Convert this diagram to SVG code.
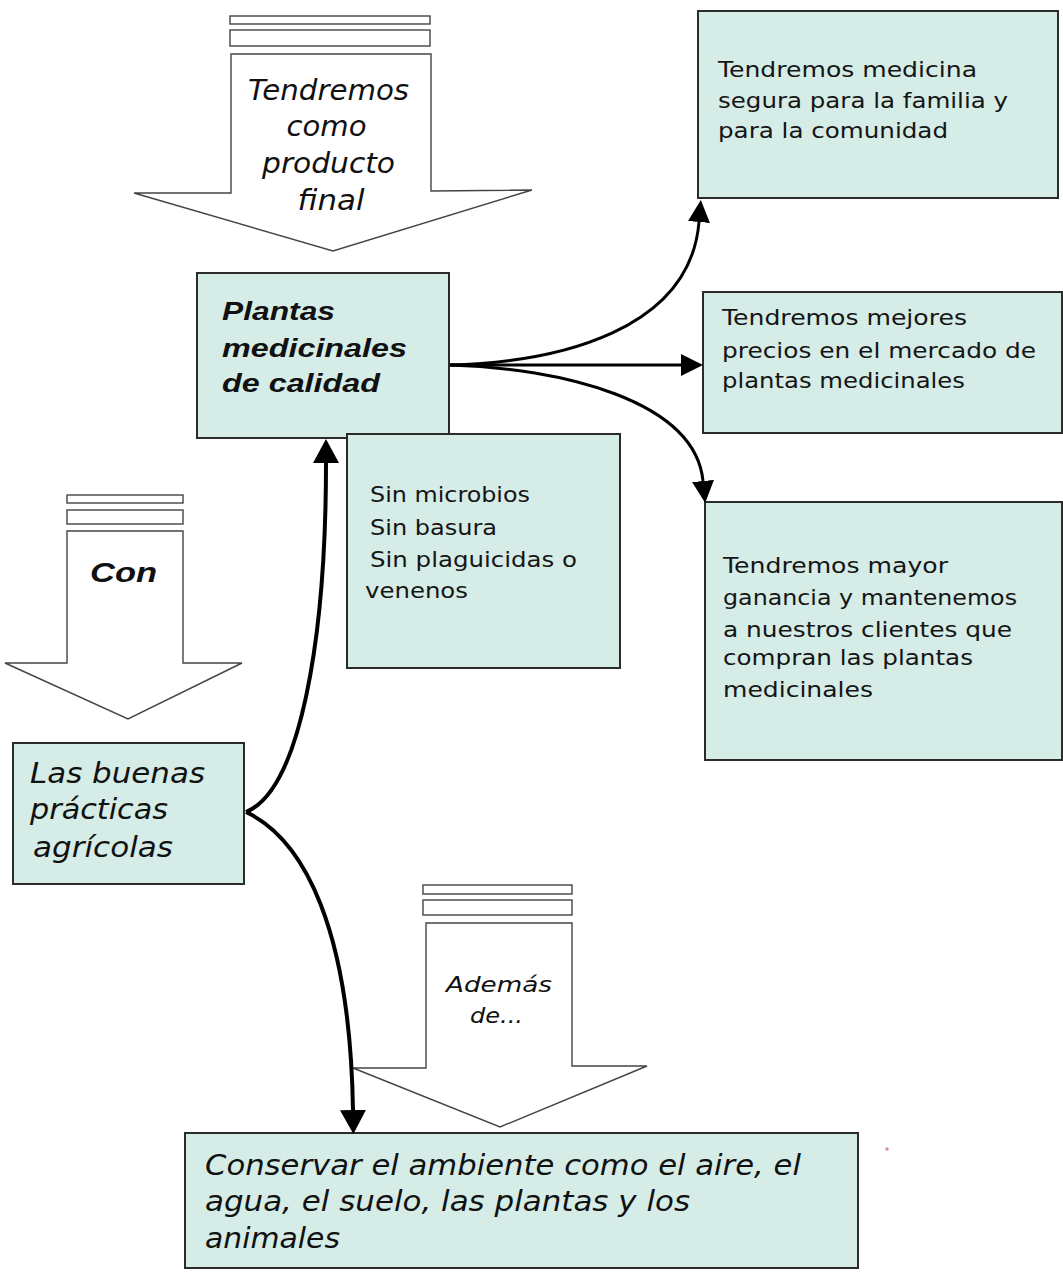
<svg xmlns="http://www.w3.org/2000/svg" width="1063" height="1272" viewBox="0 0 1063 1272">
<defs>
<style>
.box{fill:#d5ece7;stroke:#2b2b2b;stroke-width:2}
.blk{fill:#fff;stroke:#444;stroke-width:1.4}
.t{font-family:"DejaVu Sans","Noto Sans",sans-serif;font-size:22px;fill:#151515}
.ti{font-family:"DejaVu Sans","Noto Sans",sans-serif;font-style:italic;fill:#111}
.tb{font-family:"Liberation Sans",Arial,sans-serif;font-style:italic;font-weight:bold;fill:#111}
.thick{fill:none;stroke:#000;stroke-width:4}
.thin{fill:none;stroke:#000;stroke-width:3}
</style>
<marker id="ahBig" markerUnits="userSpaceOnUse" markerWidth="24" markerHeight="26" refX="0" refY="13" orient="auto" viewBox="0 0 24 26">
<path d="M0,0 L24,13 L0,26 Z" fill="#000"/>
</marker>
<marker id="ahSm" markerUnits="userSpaceOnUse" markerWidth="22" markerHeight="22" refX="0" refY="11" orient="auto" viewBox="0 0 22 22">
<path d="M0,0 L22,11 L0,22 Z" fill="#000"/>
</marker>
</defs>
<rect width="1063" height="1272" fill="#fff"/>

<g id="arrow-tendremos">
<rect class="blk" x="230" y="16" width="200" height="8"/>
<rect class="blk" x="230" y="30" width="200" height="16"/>
<polygon class="blk" points="231,54 431,54 431,191 532,190 333,251 134,193 231,193"/>
<text class="ti" font-size="28" text-anchor="middle">
<tspan x="333" y="100" textLength="161" lengthAdjust="spacingAndGlyphs">Tendremos</tspan>
<tspan x="331" y="136" textLength="80" lengthAdjust="spacingAndGlyphs">como</tspan>
<tspan x="333" y="173" textLength="133" lengthAdjust="spacingAndGlyphs">producto</tspan>
<tspan x="331" y="210" textLength="67" lengthAdjust="spacingAndGlyphs">final</tspan>
</text>
</g>

<g id="arrow-con">
<rect class="blk" x="67" y="495" width="116" height="8"/>
<rect class="blk" x="67" y="510" width="116" height="14"/>
<polygon class="blk" points="67,531 183,531 183,663 242,663 128,719 5,663 67,663"/>
<text class="tb" font-size="27" x="90" y="582" textLength="67" lengthAdjust="spacingAndGlyphs">Con</text>
</g>

<g id="arrow-ademas">
<rect class="blk" x="423" y="885" width="149" height="9"/>
<rect class="blk" x="423" y="900" width="149" height="15"/>
<polygon class="blk" points="426,923 572,923 572,1066 647,1066 500,1127 353,1068 426,1068"/>
<text class="ti" font-size="22">
<tspan x="446" y="992" textLength="106" lengthAdjust="spacingAndGlyphs">Además</tspan>
<tspan x="470" y="1023" textLength="53" lengthAdjust="spacingAndGlyphs">de...</tspan>
</text>
</g>

<g id="node-plantas">
<rect class="box" x="197" y="273" width="252" height="165"/>
<text class="tb" font-size="26">
<tspan x="222" y="320" textLength="113" lengthAdjust="spacingAndGlyphs">Plantas</tspan>
<tspan x="222" y="357" textLength="185" lengthAdjust="spacingAndGlyphs">medicinales</tspan>
<tspan x="222" y="392" textLength="158" lengthAdjust="spacingAndGlyphs">de calidad</tspan>
</text>
</g>

<g id="node-sin">
<rect class="box" x="347" y="434" width="273" height="234"/>
<text class="t">
<tspan x="370" y="502" textLength="160" lengthAdjust="spacingAndGlyphs">Sin microbios</tspan>
<tspan x="370" y="535" textLength="127" lengthAdjust="spacingAndGlyphs">Sin basura</tspan>
<tspan x="370" y="567" textLength="207" lengthAdjust="spacingAndGlyphs">Sin plaguicidas o</tspan>
<tspan x="365" y="598" textLength="103" lengthAdjust="spacingAndGlyphs">venenos</tspan>
</text>
</g>

<g id="node-medicina">
<rect class="box" x="698" y="11" width="360" height="187"/>
<text class="t">
<tspan x="718" y="77" textLength="259" lengthAdjust="spacingAndGlyphs">Tendremos medicina</tspan>
<tspan x="718" y="108" textLength="290" lengthAdjust="spacingAndGlyphs">segura para la familia y</tspan>
<tspan x="718" y="138" textLength="230" lengthAdjust="spacingAndGlyphs">para la comunidad</tspan>
</text>
</g>

<g id="node-precios">
<rect class="box" x="703" y="292" width="359" height="141"/>
<text class="t">
<tspan x="722" y="325" textLength="245" lengthAdjust="spacingAndGlyphs">Tendremos mejores</tspan>
<tspan x="722" y="358" textLength="314" lengthAdjust="spacingAndGlyphs">precios en el mercado de</tspan>
<tspan x="722" y="388" textLength="243" lengthAdjust="spacingAndGlyphs">plantas medicinales</tspan>
</text>
</g>

<g id="node-ganancia">
<rect class="box" x="705" y="502" width="357" height="258"/>
<text class="t">
<tspan x="723" y="573" textLength="225" lengthAdjust="spacingAndGlyphs">Tendremos mayor</tspan>
<tspan x="723" y="605" textLength="294" lengthAdjust="spacingAndGlyphs">ganancia y mantenemos</tspan>
<tspan x="723" y="637" textLength="289" lengthAdjust="spacingAndGlyphs">a nuestros clientes que</tspan>
<tspan x="723" y="665" textLength="250" lengthAdjust="spacingAndGlyphs">compran las plantas</tspan>
<tspan x="723" y="697" textLength="150" lengthAdjust="spacingAndGlyphs">medicinales</tspan>
</text>
</g>

<g id="node-buenas">
<rect class="box" x="13" y="743" width="231" height="141"/>
<text class="ti" font-size="28">
<tspan x="30" y="783" textLength="175" lengthAdjust="spacingAndGlyphs">Las buenas</tspan>
<tspan x="30" y="819" textLength="138" lengthAdjust="spacingAndGlyphs">prácticas</tspan>
<tspan x="33" y="857" textLength="140" lengthAdjust="spacingAndGlyphs">agrícolas</tspan>
</text>
</g>

<g id="node-conservar">
<rect class="box" x="185" y="1133" width="673" height="135"/>
<text class="ti" font-size="29">
<tspan x="205" y="1175" textLength="596" lengthAdjust="spacingAndGlyphs">Conservar el ambiente como el aire, el</tspan>
<tspan x="205" y="1211" textLength="485" lengthAdjust="spacingAndGlyphs">agua, el suelo, las plantas y los</tspan>
<tspan x="205" y="1248" textLength="135" lengthAdjust="spacingAndGlyphs">animales</tspan>
</text>
</g>

<g id="connectors">
<path class="thick" d="M246,812 C300,790 326,640 326,463" marker-end="url(#ahBig)"/>
<path class="thick" d="M246,812 C305,840 350,930 353,1110" marker-end="url(#ahBig)"/>
<path class="thin" d="M450,365 C560,362 690,330 699,222" marker-end="url(#ahSm)"/>
<path class="thin" d="M450,365 L681,365" marker-end="url(#ahSm)"/>
<path class="thin" d="M450,365 C560,368 695,400 703,481" marker-end="url(#ahSm)"/>
</g>

<circle cx="887" cy="1149" r="1.8" fill="#c4607c" opacity="0.7"/>
</svg>
